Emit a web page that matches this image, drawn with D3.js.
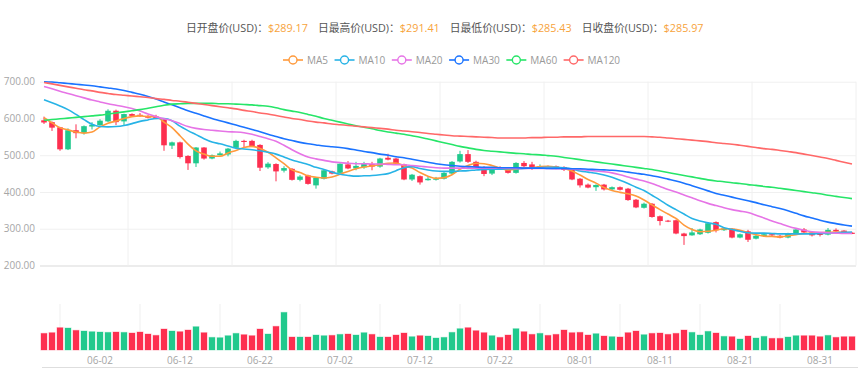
<!DOCTYPE html>
<html><head><meta charset="utf-8">
<script src="https://cdn.jsdelivr.net/npm/d3@7"></script>
<style>
html,body{margin:0;padding:0;background:#fff;}
svg{display:block;font-family:"Open Sans","Noto Sans CJK SC",sans-serif;}
</style></head><body>
<svg id="chart" width="865" height="368"></svg>
<script>
const dates = ["05-26","05-27","05-28","05-29","05-30","05-31",
"06-01","06-02","06-03","06-04","06-05","06-06","06-07","06-08","06-09","06-10","06-11","06-12","06-13","06-14","06-15","06-16","06-17","06-18","06-19","06-20","06-21","06-22","06-23","06-24","06-25","06-26","06-27","06-28","06-29","06-30",
"07-01","07-02","07-03","07-04","07-05","07-06","07-07","07-08","07-09","07-10","07-11","07-12","07-13","07-14","07-15","07-16","07-17","07-18","07-19","07-20","07-21","07-22","07-23","07-24","07-25","07-26","07-27","07-28","07-29","07-30","07-31",
"08-01","08-02","08-03","08-04","08-05","08-06","08-07","08-08","08-09","08-10","08-11","08-12","08-13","08-14","08-15","08-16","08-17","08-18","08-19","08-20","08-21","08-22","08-23","08-24","08-25","08-26","08-27","08-28","08-29","08-30","08-31",
"09-01","09-02","09-03","09-04"];

const openVals = [595,590,576,516,568,560,578,582,592,621, 592,612,610,607,605,597,526,535,498,478,
521,491,500,502,520,539,539,528,467,476, 458,463,433,445,418,436,456,452,475,464,
467,476,469,493,491,475,434,443,432,434, 436,450,483,503,482,468,450,466,465,452,
479,475,465,470,470,468,461,436,420,413, 420,407,413,409,379,357,368,334,322,323,
287,282,285,289,318,296,300,276,293,273, 280,285,281,276,287,298,290,288,284,297,
295,289.17];
const closeVals = [589,575,516,568,560,579,583,594,621,590, 612,607,607,602,600,527,535,495,478,521,
491,500,505,518,539,536,525,466,477,456, 465,433,442,422,439,459,450,477,464,471,
476,469,491,488,477,434,447,426,436,436, 452,482,503,482,468,449,464,462,452,479,
470,463,470,466,465,460,434,418,412,419, 407,413,406,378,358,368,332,321,320,287,
280,290,298,315,296,301,276,285,270,281, 285,282,276,287,298,290,282,283,297,293,
289,285.97];
const highVals = [605,592,577,573,584,581,590,598,625,624, 613,614,615,609,610,600,537,537,500,522,
522,502,510,520,542,542,542,530,481,478, 470,465,446,447,441,461,458,478,484,482,
482,482,493,504,493,477,449,445,443,441, 454,484,512,514,485,470,466,470,467,481,
484,482,475,472,472,470,463,438,423,421, 422,415,415,411,381,371,370,336,324,325,
289,302,300,318,320,304,302,287,297,283, 287,288,283,289,301,302,292,290,302,301,
296,291.41];
const lowVals = [585,566,512,514,546,556,570,580,590,582, 582,604,604,600,598,512,517,491,460,468,
488,489,499,497,518,521,522,457,463,429, 453,431,429,420,409,434,448,450,462,459,
463,459,466,486,475,432,430,420,431,431, 434,448,480,479,466,443,446,460,450,450,
465,460,463,463,462,457,432,412,410,403, 404,403,404,376,356,355,330,309,318,285,
256,281,283,287,290,294,274,274,264,271, 278,280,274,274,286,288,279,279,282,291,
287,285.43];
const volumeVals = [50,52,67,66,59,57,55,54,53,54, 53,51,54,48,44,63,57,55,60,70,
52,38,37,43,50,46,43,63,48,71, 113,39,39,39,45,43,44,47,48,45,
52,47,39,39,45,51,40,43,42,36, 38,53,64,67,58,52,43,38,45,64,
55,47,50,44,47,60,52,53,45,49, 42,40,39,52,57,46,50,51,47,50,
60,53,45,56,51,41,40,33,42,36, 41,35,35,39,43,43,43,40,44,38,
40,40];

const ma5 = [602,588,575,569,563,560,563,577,587,593, 600,605,607,605,605,590,575,553,530,512,
503,497,497,506,513,521,524,518,508,493, 477,460,453,444,440,438,441,448,456,463,
468,471,474,478,479,471,465,453,443,437, 439,447,462,472,478,477,472,465,460,462,
466,466,469,470,468,464,457,446,434,424, 412,404,399,395,389,378,365,352,340,328,
310,298,292,293,296,300,299,296,289,284, 280,279,278,281,284,287,288,289,290,291,
290,289];
const ma10 = [651,643,634,624,611,597,584,578,577,578, 581,586,592,596,600,600,594,579,567,556,
545,536,531,525,519,517,515,512,508,503, 495,487,481,475,467,461,454,448,445,443,
444,445,447,450,458,466,469,464,460,457, 456,456,457,458,460,461,462,462,463,463,
464,465,466,467,467,466,463,457,454,451, 446,440,432,423,413,404,391,378,364,352,
340,328,321,316,312,303,298,293,289,288, 288,287,286,286,286,286,286,287,288,289,
290,291];
const ma20 = [687,681,674,668,662,656,650,645,640,636, 632,627,620,612,605,599,594,586,578,573,
570,568,566,564,563,561,557,551,545,538, 527,515,504,495,490,486,482,480,478,477,
477,476,476,475,474,474,472,470,468,466, 465,465,465,465,465,465,465,465,465,464,
464,464,464,464,463,463,462,461,459,457, 455,452,447,441,435,430,423,415,407,400,
392,384,376,369,363,357,352,348,344,337, 329,321,314,307,301,296,292,290,289,288,
287,287];
const ma30 = [700,699,697,695,693,691,689,686,683,680, 676,671,666,660,653,645,637,629,621,614,
607,600,594,588,582,576,570,564,557,551, 545,540,535,531,528,525,523,521,518,514,
510,507,503,500,496,493,489,485,481,477, 474,472,470,469,468,467,467,466,466,466,
465,465,465,464,464,464,463,463,462,461, 460,459,457,454,451,448,444,440,435,430,
424,417,410,403,396,391,386,381,376,371, 365,360,355,349,342,335,329,323,318,314,
310,307];
const ma60 = [595,597,599,601,603,605,607,609,612,615, 618,621,624,628,632,636,639,640,641,641,
641,641,640,640,639,638,637,635,633,629, 624,620,616,611,606,600,595,590,585,580,
576,572,567,563,560,557,553,549,544,539, 534,529,524,520,516,513,511,509,507,505,
504,502,501,499,497,494,491,488,485,482, 479,476,473,470,467,464,461,457,453,449,
445,441,437,433,430,428,425,423,420,418, 415,413,410,407,404,401,398,395,391,388,
385,382];
const ma120 = [698,694,690,686,682,678,675,671,668,665, 663,661,659,657,654,652,649,647,644,641,
638,635,632,629,626,622,619,615,612,608, 604,600,597,593,590,588,585,583,581,579,
577,575,573,571,568,566,564,562,559,557, 555,553,552,551,550,549,548,547,547,547,
547,548,548,549,549,550,550,550,551,551, 551,551,551,551,551,551,550,549,547,545,
543,541,539,537,534,532,530,527,524,521, 518,516,513,510,507,503,499,495,491,486,
481,476];

const maNames = ["MA5","MA10","MA20","MA30","MA60","MA120"];
const maColors = ["#ff9a3c","#27b3e6","#e674e6","#1a73ff","#26e568","#ff6868"];
const maSeries = [ma5, ma10, ma20, ma30, ma60, ma120];
const priceTicks = [200,300,400,500,600,700];
const headerLabels = ["日开盘价(USD)：","日最高价(USD)：","日最低价(USD)：","日收盘价(USD)："];

const UP = "#21c98d", DOWN = "#fd2f4f";
const FONT = "'Open Sans','Noto Sans CJK SC',sans-serif";

const svg = d3.select("#chart");
const n = dates.length;
const x = d3.scaleBand().domain(d3.range(n)).range([40, 856]).padding(0);
const step = x.step();
const cx = i => x(i) + step / 2;
const xb = k => k < n ? x(k) : x.range()[1];
const yP = d3.scaleLinear().domain([200, 700]).range([265.5, 81.7]);
const yV = d3.scaleLinear().domain([0, 138]).range([350, 304]);

// Header
const last = n - 1;
const headerValues = [openVals[last], highVals[last], lowVals[last], closeVals[last]].map(v => "$" + d3.format(".2f")(v));
const ht = svg.append("text").attr("x", 186).attr("y", 31.5).attr("font-size", 10.8).attr("font-family", FONT);
headerLabels.forEach((lab, k) => {
  ht.append("tspan").attr("dx", k === 0 ? 0 : 10).attr("fill", "#555").text(lab);
  ht.append("tspan").attr("fill", "#f7a33b").text(headerValues[k]);
});

// Legend
const lg = svg.append("g");
let lx = 283;
maNames.forEach((name, k) => {
  const g = lg.append("g").attr("transform", `translate(${lx},60)`);
  g.append("line").attr("x1", 0).attr("x2", 20).attr("stroke", maColors[k]).attr("stroke-width", 1.6);
  g.append("circle").attr("cx", 10).attr("r", 4).attr("fill", "#fff").attr("stroke", maColors[k]).attr("stroke-width", 1.4);
  const t = g.append("text").attr("x", 24).attr("y", 3.5).attr("font-size", 10).attr("fill", "#999")
    .attr("font-family", FONT).text(name);
  lx += 24 + t.node().getComputedTextLength() + 6.5;
});

// Price y axis with grid
const yAxis = d3.axisLeft(yP).tickValues(priceTicks).tickFormat(d3.format(".2f"))
  .tickSize(-(x.range()[1] - x.range()[0])).tickPadding(5);
const gy = svg.append("g").attr("transform", "translate(40,0)").call(yAxis);
gy.select(".domain").remove();
gy.selectAll(".tick line").attr("stroke", d => d === 200 ? "#d9d9d9" : "#f0f0f0");
gy.selectAll(".tick text").attr("fill", "#a6a6a6").attr("font-size", 10).attr("font-family", FONT);

// Price vertical split lines (category boundaries every 13)
const splitIdx = d3.range(11, n + 1, 13);
svg.append("g").selectAll("line").data(splitIdx).join("line")
  .attr("x1", d => xb(d)).attr("x2", d => xb(d))
  .attr("y1", yP(700)).attr("y2", yP(200))
  .attr("stroke", "#f0f0f0");

// Candles
const cg = svg.append("g");
d3.range(n).forEach(i => {
  const o = openVals[i], c = closeVals[i];
  const col = c >= o ? UP : DOWN;
  cg.append("line").attr("x1", cx(i)).attr("x2", cx(i))
    .attr("y1", yP(highVals[i])).attr("y2", yP(lowVals[i]))
    .attr("stroke", col).attr("stroke-width", 1);
  const top = Math.min(yP(o), yP(c));
  const h = Math.max(1, Math.abs(yP(o) - yP(c)));
  cg.append("rect").attr("x", cx(i) - 2.8).attr("width", 5.6)
    .attr("y", top).attr("height", h).attr("fill", col);
});

// MA lines
const line = d3.line().x((d, i) => cx(i)).y(d => yP(d)).curve(d3.curveMonotoneX);
maSeries.forEach((s, k) => {
  svg.append("path").attr("d", line(s)).attr("fill", "none")
    .attr("stroke", maColors[k]).attr("stroke-width", 1.6).attr("stroke-linejoin", "round");
});

// Volume panel grid lines
const volGridIdx = d3.range(2, n, 10);
svg.append("g").selectAll("line").data(volGridIdx).join("line")
  .attr("x1", d => cx(d)).attr("x2", d => cx(d))
  .attr("y1", yV.range()[1]).attr("y2", yV.range()[0])
  .attr("stroke", "#efefef");

// Volume bars
svg.append("g").selectAll("rect").data(volumeVals).join("rect")
  .attr("x", (d, i) => x(i) + 1).attr("width", step - 2)
  .attr("y", d => yV(d)).attr("height", d => yV(0) - yV(d))
  .attr("fill", (d, i) => closeVals[i] >= openVals[i] ? UP : DOWN)
  .attr("stroke", (d, i) => closeVals[i] >= openVals[i] ? UP : DOWN)
  .attr("stroke-opacity", 0.35).attr("stroke-width", 1);

// Volume x axis labels
const labelIdx = d3.range(7, n, 10);
const xAxis = d3.axisBottom(x).tickValues(labelIdx).tickFormat(i => dates[i]).tickSize(0).tickPadding(7);
const gx = svg.append("g").attr("transform", "translate(0,350)").call(xAxis);
gx.select(".domain").remove();
gx.selectAll(".tick text").attr("fill", "#a6a6a6").attr("font-size", 10).attr("font-family", FONT);

// bottom line
svg.append("line").attr("x1", x.range()[0] + 2).attr("x2", x.range()[1] + 2)
  .attr("y1", 367.5).attr("y2", 367.5).attr("stroke", "#dedede");
</script>
</body></html>
